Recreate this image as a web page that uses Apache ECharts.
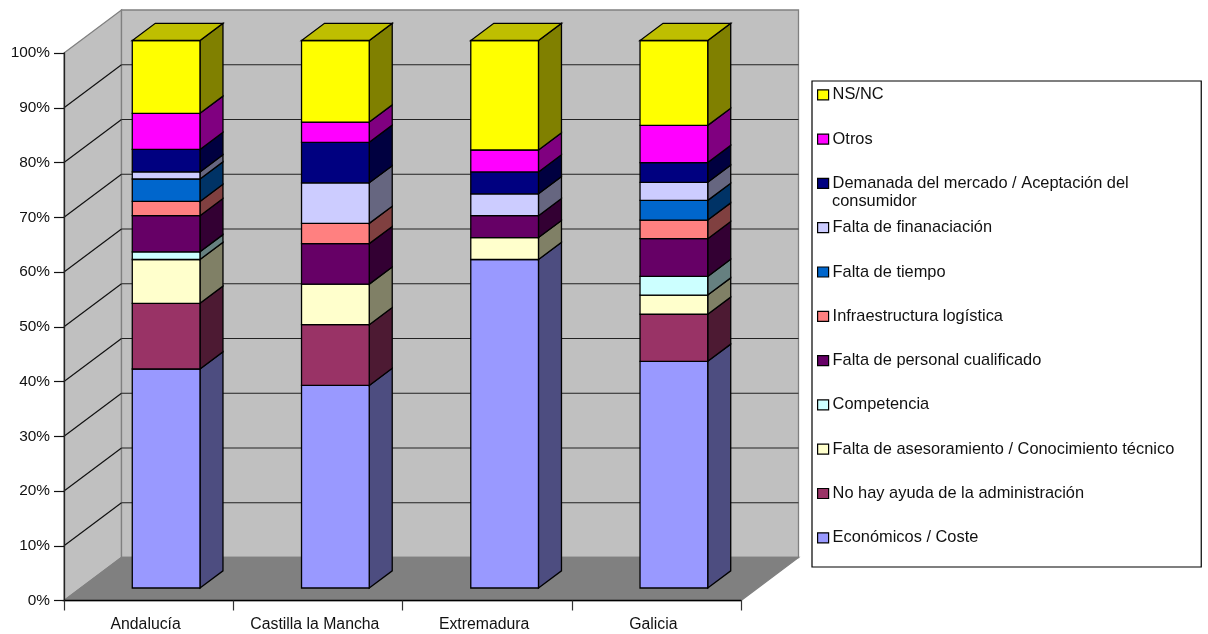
<!DOCTYPE html>
<html><head><meta charset="utf-8">
<style>html,body{margin:0;padding:0;background:#fff}#c{width:1208px;height:634px}</style>
<script src="https://cdn.jsdelivr.net/npm/echarts@6/dist/echarts.min.js"></script>
</head><body><div id="c"></div>
<script>
const categories = ['Andalucía','Castilla la Mancha','Extremadura','Galicia'];
const yTicks = [0,10,20,30,40,50,60,70,80,90,100];
const seriesNames = ['Económicos / Coste','No hay ayuda de la administración','Falta de asesoramiento / Conocimiento técnico','Competencia','Falta de personal cualificado','Infraestructura logística','Falta de tiempo','Falta de finanaciación','Demanada del mercado / Aceptación del consumidor','Otros','NS/NC'];
const economicos   = [40, 37.0, 60, 41.4];
const noAyuda      = [12, 11.1, 0, 8.6];
const asesoramiento= [8, 7.4, 4, 3.5];
const competencia  = [1.4, 0, 0, 3.4];
const personal     = [6.6, 7.4, 4, 6.9];
const logistica    = [2.6, 3.7, 0, 3.4];
const tiempo       = [4.1, 0, 0, 3.6];
const financiacion = [1.3, 7.4, 4, 3.3];
const demanda      = [4.1, 7.4, 4, 3.6];
const otros        = [6.6, 3.7, 4, 6.8];
const nsnc         = [13.3, 14.9, 20, 15.5];
const seriesValues = [economicos,noAyuda,asesoramiento,competencia,personal,logistica,tiempo,financiacion,demanda,otros,nsnc];
const colors = ['#9999FF','#993366','#FFFFCC','#CCFFFF','#660066','#FF8080','#0066CC','#CCCCFF','#000080','#FF00FF','#FFFF00'];

const FONT = '"Liberation Sans", Arial, sans-serif';
const WALL_DX = 57.5, WALL_DY = -43;   // depth of the 3D box
const BAR_INSET_DX = 17.5, BAR_INSET_DY = -12.5; // bar front face inside the box
const BAR_DX = 23, BAR_DY = -17.2;     // bar depth

function shade(hex, k){
  const n = parseInt(hex.slice(1),16);
  const c = s => Math.round(((n>>s)&255)*k);
  return 'rgb('+c(16)+','+c(8)+','+c(0)+')';
}
function poly(points, fill, stroke, lw){
  return {type:'polygon', shape:{points}, style:{fill, stroke, lineWidth:lw==null?1.3:lw, lineJoin:'miter'}};
}
function seg(x1,y1,x2,y2,stroke){
  return {type:'line', shape:{x1,y1,x2,y2}, style:{stroke, lineWidth:1.2, fill:null}};
}
function renderWalls(params, api){
  const cs = params.coordSys;
  const l = cs.x, r = cs.x+cs.width, b = api.coord([0,0])[1], t = api.coord([0,100])[1];
  const dx = WALL_DX, dy = WALL_DY;
  const kids = [
    poly([[l,t],[l+dx,t+dy],[l+dx,b+dy],[l,b]], '#C0C0C0', '#808080'),
    poly([[l+dx,t+dy],[r+dx,t+dy],[r+dx,b+dy],[l+dx,b+dy]], '#C0C0C0', '#808080'),
    poly([[l,b],[r,b],[r+dx,b+dy],[l+dx,b+dy]], '#808080', '#808080')
  ];
  yTicks.forEach(v=>{
    if(v===0||v===100) return;
    const y = api.coord([0,v])[1];
    kids.push(seg(l,y,l+dx,y+dy,'#111'));
    kids.push(seg(l+dx,y+dy,r+dx,y+dy,'#222'));
  });
  return {type:'group', children:kids};
}
function renderBar(params, api){
  const cat = api.value(0), v0 = api.value(1), v1 = api.value(2);
  if(v1-v0<=0) return null;
  const w = api.size([1,0])[0]*0.4;
  const c0 = api.coord([cat,v0]), c1 = api.coord([cat,v1]);
  const xl = c0[0]+BAR_INSET_DX-w/2, xr = xl+w;
  const yb = c0[1]+BAR_INSET_DY, yt = c1[1]+BAR_INSET_DY;
  const col = api.visual('color');
  const kids = [
    poly([[xr,yb],[xr+BAR_DX,yb+BAR_DY],[xr+BAR_DX,yt+BAR_DY],[xr,yt]], shade(col,0.5), '#000'),
    poly([[xl,yb],[xr,yb],[xr,yt],[xl,yt]], col, '#000')
  ];
  if(v1>=99.95){
    kids.push(poly([[xl,yt],[xr,yt],[xr+BAR_DX,yt+BAR_DY],[xl+BAR_DX,yt+BAR_DY]], shade(col,0.75), '#000'));
  }
  return {type:'group', children:kids};
}

const running = categories.map(()=>0);
const barSeries = seriesNames.map((name,i)=>{
  const data = categories.map((c,j)=>{
    const s = running[j]; running[j] = Math.round((s+seriesValues[i][j])*10)/10;
    return [j,s,running[j]];
  });
  return {type:'custom', name, data, renderItem:renderBar, z:3, clip:false,
    encode:{x:0,y:[1,2]}, itemStyle:{color:colors[i]}};
});

const chart = echarts.init(document.getElementById('c'),null,{renderer:'canvas'});
chart.setOption({
  animation:false,
  textStyle:{fontFamily:FONT},
  grid:{left:64,right:467,top:53,bottom:33.5,containLabel:false},
  xAxis:{type:'category',data:categories,z:2,
    axisLine:{lineStyle:{color:'#000',width:1.3}},
    axisTick:{show:true,length:10,lineStyle:{color:'#333',width:1.2}},
    axisLabel:{color:'#111',fontSize:15.8,fontFamily:FONT,margin:16,padding:[0,6,0,0],interval:0},
    splitLine:{show:false}},
  yAxis:{type:'value',min:0,max:100,interval:10,z:2,
    axisLine:{show:true,lineStyle:{color:'#222',width:1.3}},
    axisTick:{show:true,length:10,lineStyle:{color:'#111',width:1.2}},
    axisLabel:{color:'#111',fontSize:15.4,fontFamily:FONT,margin:14,padding:[2,0,0,0],formatter:'{value}%'},
    splitLine:{show:false}},
  legend:{
    left:812,top:81,orient:'vertical',
    data:seriesNames.slice().reverse(),
    backgroundColor:'#fff',borderColor:'#000',borderWidth:1.2,
    padding:[5.8,27,21.2,5],itemGap:28.3,itemWidth:11,itemHeight:10,icon:'rect',
    itemStyle:{borderColor:'#000',borderWidth:1.2},
    selectedMode:false,z:5,
    textStyle:{color:'#111',fontSize:16.4,fontFamily:FONT,padding:[0,0,0,-1]},
    formatter:n=>n.replace(' consumidor','')
  },
  tooltip:{show:false},
  graphic:[{type:'text',left:832,top:193,z:20,
    style:{text:'consumidor',fontSize:16.4,fontFamily:FONT,fill:'#111'}}],
  series:[{type:'custom',name:'walls',data:[[0,0]],renderItem:renderWalls,z:1,silent:true,clip:false,encode:{x:0,y:1}}].concat(barSeries)
});
</script></body></html>
